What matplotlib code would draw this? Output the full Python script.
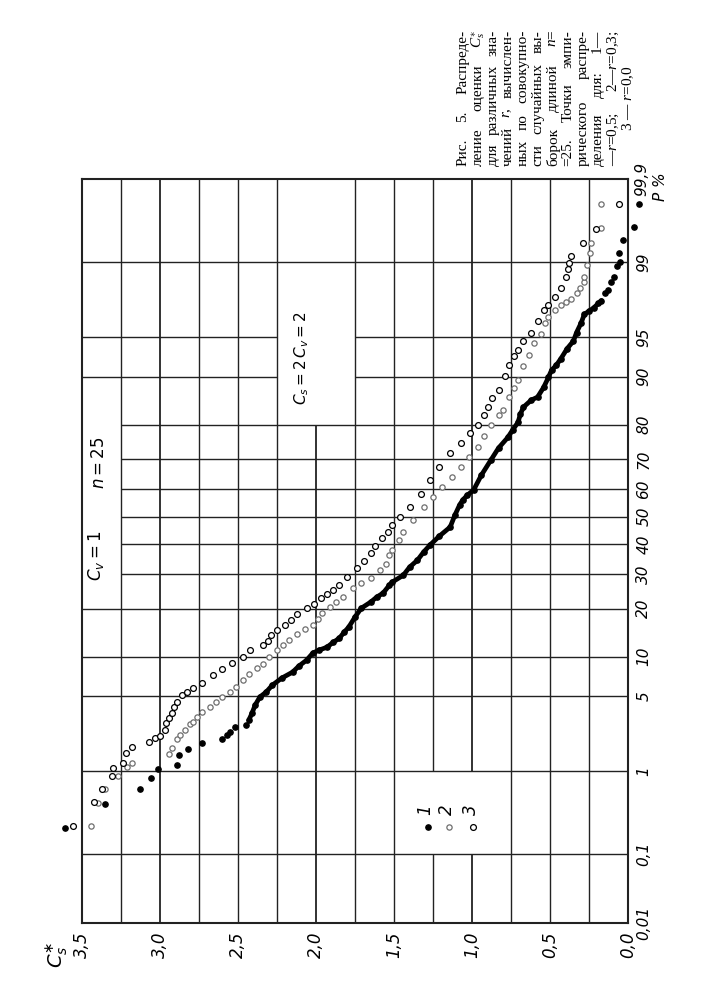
import math
from statistics import NormalDist
import numpy as np
import matplotlib
matplotlib.use('Agg')
import matplotlib.pyplot as plt

plt.rcParams['mathtext.fontset'] = 'custom'
plt.rcParams['mathtext.rm'] = 'Liberation Serif'
plt.rcParams['mathtext.it'] = 'Liberation Serif:italic'

# P, % (обеспеченность) и оценки Cs* для трёх совокупностей
# 1 — r=0,5
p1 = [0.22, 0.43, 0.64, 0.84, 1.05, 1.15, 1.46, 1.66, 1.92, 2.07, 2.28, 2.44, 2.70, 2.81, 3.14,
      3.61, 4.23, 4.94, 5.41, 6.15, 6.97, 7.74, 8.57, 9.46, 10.6, 11.1, 11.6, 12.5, 13.3, 14.5,
      15.6, 17.9, 20.1, 21.7, 23.1, 24.2, 26.5, 27.5, 29.6, 32.2, 34.5, 37.3, 39.7, 42.9, 46.2,
      50.5, 54.2, 56.0, 57.8, 59.6, 64.8, 69.7, 73.5, 76.6, 78.6, 80.6, 82.6, 84.2, 85.7, 86.3,
      88.2, 89.9, 91.0, 91.7, 92.6, 93.8, 94.6, 95.4, 96.2, 96.8, 97.0, 97.2, 97.45, 97.6,
      97.95, 98.1, 98.4, 98.6, 98.9, 99.0, 99.2, 99.43, 99.6, 99.79]
cs1 = [3.61, 3.35, 3.13, 3.06, 3.01, 2.89, 2.88, 2.82, 2.73, 2.60, 2.57, 2.55, 2.52, 2.45, 2.43,
       2.41, 2.39, 2.36, 2.32, 2.28, 2.22, 2.15, 2.11, 2.06, 2.02, 1.98, 1.93, 1.89, 1.85, 1.82,
       1.79, 1.75, 1.71, 1.65, 1.61, 1.57, 1.53, 1.51, 1.44, 1.40, 1.35, 1.31, 1.27, 1.21, 1.14,
       1.11, 1.08, 1.06, 1.03, 0.99, 0.94, 0.88, 0.83, 0.77, 0.74, 0.705, 0.69, 0.67, 0.62, 0.58,
       0.54, 0.51, 0.49, 0.46, 0.43, 0.39, 0.35, 0.33, 0.30, 0.28, 0.25, 0.22, 0.19, 0.17,
       0.15, 0.13, 0.11, 0.09, 0.07, 0.05, 0.06, 0.03, -0.04, -0.07]

# 2 — r=0,3
p2 = [0.23, 0.44, 0.64, 0.89, 1.1, 1.2, 1.49, 1.71, 2.09, 2.28, 2.54, 2.88, 3.0, 3.33, 3.68,
      4.07, 4.49, 4.94, 5.41, 5.94, 6.73, 7.48, 8.28, 8.87, 9.94, 11.1, 12.0, 12.9, 14.1, 15.2,
      16.0, 17.4, 18.9, 20.4, 21.7, 23.1, 25.7, 27.2, 28.7, 31.2, 33.2, 36.2, 38.0, 41.5, 44.4,
      48.7, 53.5, 57.1, 60.6, 64.1, 67.5, 70.7, 73.8, 76.9, 79.9, 82.4, 83.5, 86.3, 88.0, 89.4,
      91.6, 93.1, 94.4, 95.3, 96.2, 96.6, 97.05, 97.35, 97.5, 97.7, 97.96, 98.17, 98.4, 98.6,
      98.93, 99.2, 99.38, 99.59, 99.79]
cs2 = [3.44, 3.40, 3.35, 3.27, 3.21, 3.18, 2.94, 2.92, 2.89, 2.87, 2.84, 2.81, 2.79, 2.76, 2.73,
       2.68, 2.64, 2.60, 2.55, 2.51, 2.47, 2.43, 2.38, 2.34, 2.30, 2.25, 2.21, 2.17, 2.12, 2.07,
       2.02, 1.99, 1.96, 1.91, 1.87, 1.83, 1.76, 1.71, 1.65, 1.59, 1.55, 1.53, 1.51, 1.47, 1.44,
       1.38, 1.31, 1.25, 1.19, 1.13, 1.07, 1.02, 0.96, 0.92, 0.88, 0.83, 0.80, 0.76, 0.73, 0.705,
       0.67, 0.635, 0.60, 0.56, 0.53, 0.51, 0.47, 0.43, 0.40, 0.365, 0.33, 0.31, 0.28, 0.28,
       0.26, 0.245, 0.24, 0.17, 0.17]

# 3 — r=0,0
p3 = [0.23, 0.45, 0.64, 0.89, 1.07, 1.22, 1.53, 1.74, 1.96, 2.13, 2.23, 2.54, 2.94, 3.27, 3.6,
      4.1, 4.5, 5.1, 5.41, 5.8, 6.36, 7.35, 8.2, 9.08, 10.0, 11.1, 12.0, 12.7, 13.9, 15.0,
      16.0, 17.2, 18.6, 20.1, 21.2, 22.8, 23.9, 25.0, 26.5, 29.0, 31.9, 34.2, 36.9, 39.4, 42.2,
      44.4, 46.9, 49.8, 53.5, 58.2, 63.1, 67.5, 71.9, 74.9, 77.8, 79.9, 82.4, 84.2, 86.1, 87.6,
      90.1, 91.7, 92.9, 93.6, 94.6, 95.4, 96.3, 97.05, 97.35, 97.77, 98.17, 98.57, 98.84, 98.98,
      99.14, 99.38, 99.58, 99.79]
cs3 = [3.56, 3.42, 3.37, 3.31, 3.30, 3.24, 3.22, 3.18, 3.07, 3.03, 3.00, 2.97, 2.96, 2.94, 2.92,
       2.91, 2.89, 2.86, 2.83, 2.79, 2.73, 2.66, 2.60, 2.54, 2.47, 2.42, 2.34, 2.31, 2.29, 2.25,
       2.20, 2.16, 2.12, 2.06, 2.01, 1.97, 1.93, 1.89, 1.85, 1.80, 1.74, 1.69, 1.65, 1.62, 1.58,
       1.54, 1.51, 1.46, 1.40, 1.33, 1.27, 1.21, 1.14, 1.07, 1.01, 0.96, 0.92, 0.90, 0.87, 0.83,
       0.79, 0.76, 0.73, 0.705, 0.67, 0.62, 0.58, 0.54, 0.51, 0.47, 0.43, 0.40, 0.385, 0.38,
       0.365, 0.29, 0.205, 0.06]

p_levels = [0.01, 0.1, 1, 5, 10, 20, 30, 40, 50, 60, 70, 80, 90, 95, 99, 99.9]
p_labels = ['0,01', '0,1', '1', '5', '10', '20', '30', '40', '50', '60', '70', '80', '90', '95', '99', '']
cs_levels = [3.5, 3.0, 2.5, 2.0, 1.5, 1.0, 0.5, 0.0]
cs_labels = ['3,5', '3,0', '2,5', '2,0', '1,5', '1,0', '0,5', '0,0']
cs_grid = [3.25, 3.0, 2.75, 2.5, 2.25, 2.0, 1.75, 1.5, 1.25, 1.0, 0.75, 0.5, 0.25]

caption_lines = ['Рис. 5. Распреде-',
                 'ление оценки $C^{\\ast}_{s}$',
                 'для различных зна-',
                 'чений $r$, вычислен-',
                 'ных по совокупно-',
                 'сти случайных вы-',
                 'борок длиной $n$=',
                 '=25. Точки эмпи-',
                 'рического распре-',
                 'деления для: $1$—',
                 '—$r$=0,5; $2$—$r$=0,3;',
                 '$3$ — $r$=0,0']

nd = NormalDist()


def fwd(p):
    p = np.clip(np.asarray(p, dtype=float), 1e-7, 100 - 1e-7)
    return np.vectorize(lambda v: nd.inv_cdf(v / 100.0), otypes=[float])(p)


def inv(z):
    z = np.asarray(z, dtype=float)
    return np.vectorize(lambda v: nd.cdf(v) * 100.0, otypes=[float])(z)


fig = plt.figure(figsize=(7.05, 10), dpi=100)
ax = fig.add_axes([0.1163, 0.077, 0.7745, 0.744])
ax.set_yscale('function', functions=(fwd, inv))
ax.set_xlim(3.5, 0.0)
ax.set_ylim(0.01, 99.9)

lc = '#222222'
# вертикальная сетка (с разрывами под надписи)
for c in cs_grid:
    lw = 1.3 if c in (3.0, 2.0, 1.0) else 1.0
    if c == 2.0:
        ax.vlines(c, 0.01, 80, color=lc, lw=lw)
    elif c in (1.25, 1.0):
        ax.vlines(c, 0.01, 0.1, color=lc, lw=lw)
        ax.vlines(c, 1, 99.9, color=lc, lw=lw)
    else:
        ax.vlines(c, 0.01, 99.9, color=lc, lw=lw)
# горизонтальная сетка
for p in p_levels[1:-1]:
    if 30 <= p <= 80:
        ax.hlines(p, 3.25, 0.0, color=lc, lw=1.0)
    elif p in (90, 95):
        ax.hlines(p, 3.5, 2.25, color=lc, lw=1.0)
        ax.hlines(p, 1.75, 0.0, color=lc, lw=1.0)
    else:
        ax.hlines(p, 3.5, 0.0, color=lc, lw=1.0)
for s in ax.spines.values():
    s.set_linewidth(1.5)
    s.set_color(lc)

# точки
n_tail = 14
n_dense = 74
ax.plot(cs1[n_tail:n_dense], p1[n_tail:n_dense], '-', color='black', lw=3.4,
        solid_capstyle='round', clip_on=False)
ax.plot(cs1, p1, 'o', ms=3.8, mfc='black', mec='black', clip_on=False)
ax.plot(cs2, p2, 'o', ms=3.8, mfc='white', mec='#6e6e6e', mew=0.9, clip_on=False)
ax.plot(cs3, p3, 'o', ms=4.2, mfc='white', mec='black', mew=0.9, clip_on=False)

# оси
ax.set_xticks(cs_levels)
ax.set_xticklabels(cs_labels, rotation=90, fontsize=12, style='italic')
ax.set_yticks(p_levels)
ax.set_yticklabels(p_labels, rotation=90, fontsize=11, style='italic', va='center')
ax.yaxis.tick_right()
ax.tick_params(length=0, pad=6)
ax.yaxis.set_minor_locator(matplotlib.ticker.NullLocator())
ax.text(1.012, 1.0, '99,9', transform=ax.transAxes, rotation=90, fontsize=11,
        style='italic', ha='left', va='center')
ax.text(1.045, 0.99, 'P %', transform=ax.transAxes, rotation=90, fontsize=11,
        style='italic', ha='left', va='center')
ax.text(-0.045, -0.025, r'$C_s^{\ast}$', transform=ax.transAxes, rotation=90, fontsize=14,
        ha='center', va='top', math_fontfamily='dejavusans')

# надписи в поле графика
ax.text(3.41, 36, r'$C_v = 1$', rotation=90, fontsize=12, ha='center', va='center',
        math_fontfamily='dejavusans')
ax.text(3.39, 69, r'$n = 25$', rotation=90, fontsize=12, ha='center', va='center',
        math_fontfamily='dejavusans')
ax.text(2.09, 92.6, r'$C_s = 2\,C_v = 2$', rotation=90, fontsize=11, ha='center',
        va='center', math_fontfamily='dejavusans')

# условные обозначения
leg_x = [0.633, 0.673, 0.717]
leg_style = [dict(mfc='black', mec='black', ms=3.8),
             dict(mfc='white', mec='#6e6e6e', ms=3.8, mew=0.9),
             dict(mfc='white', mec='black', ms=4.2, mew=0.9)]
for i, (lx, st) in enumerate(zip(leg_x, leg_style)):
    ax.plot([lx], [0.129], 'o', transform=ax.transAxes, **st)
    ax.text(lx - 0.004, 0.152, str(i + 1), transform=ax.transAxes, rotation=90,
            fontsize=12, style='italic', ha='center', va='center')

# подпись к рисунку: повернутые строки, выровненные по ширине
renderer = fig.canvas.get_renderer()
y_bot = 1 - 166 / 1000
y_top = 1 - 30 / 1000
fig_h = fig.bbox.height
for i, line in enumerate(caption_lines):
    xf = (463 + 15 * i) / 705
    if i == len(caption_lines) - 1:
        fig.text(xf, (y_bot + y_top) / 2, line, rotation=90, fontsize=11,
                 family='Liberation Serif', ha='center', va='center')
        continue
    words = line.split()
    objs = [fig.text(xf, y_bot, w, rotation=90, fontsize=11, family='Liberation Serif',
                     ha='center', va='bottom') for w in words]
    lens = [o.get_window_extent(renderer).height / fig_h for o in objs]
    gap = (y_top - y_bot - sum(lens)) / max(len(words) - 1, 1)
    y = y_bot
    for o, ln in zip(objs, lens):
        o.set_y(y)
        y += ln + gap

fig.savefig('out.png', dpi=100)
